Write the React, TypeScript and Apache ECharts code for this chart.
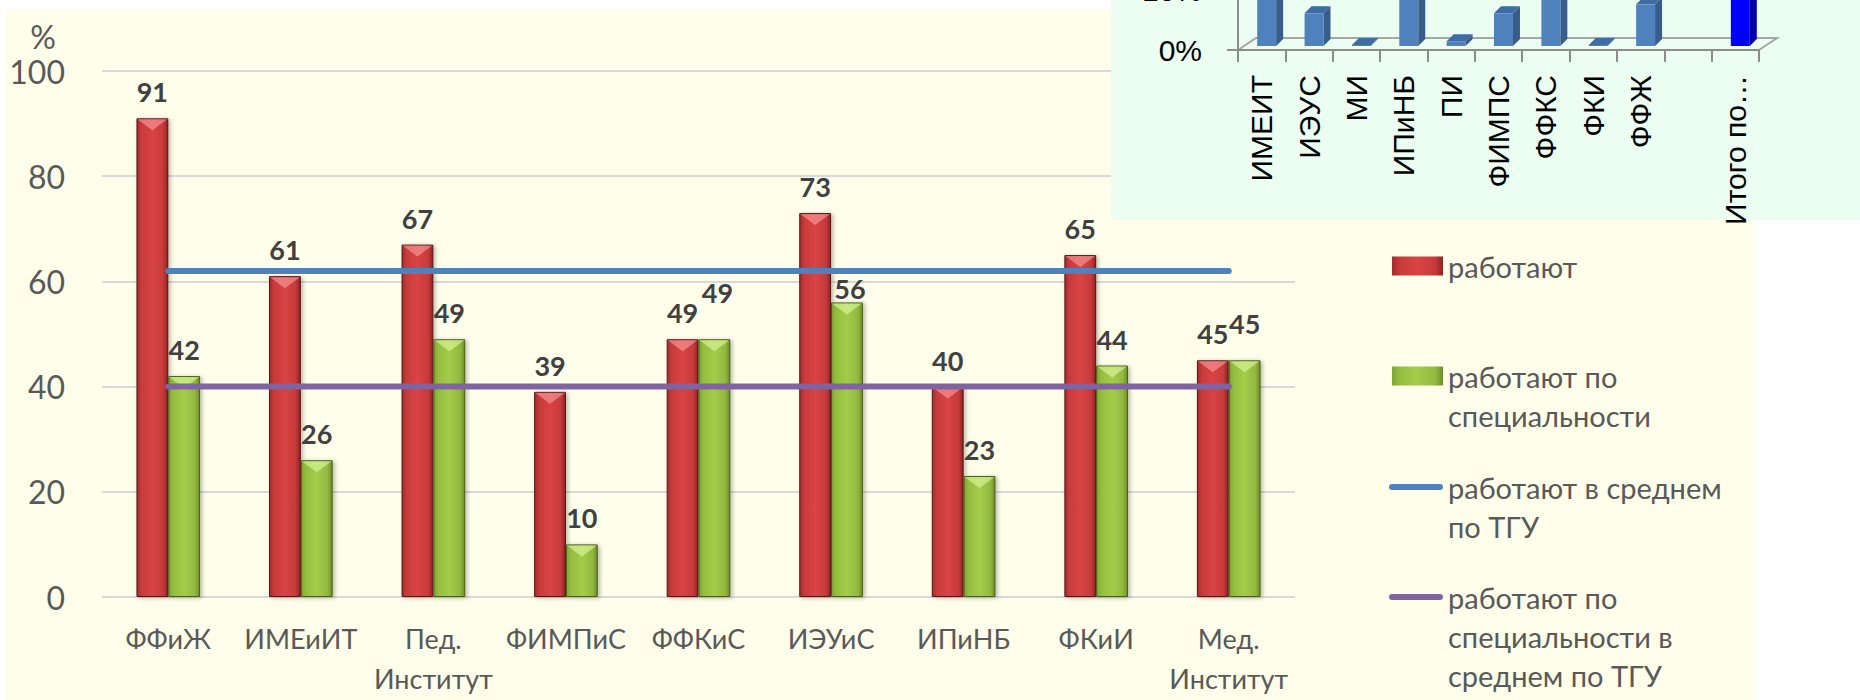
import React, { useEffect, useRef } from 'react';
import * as echarts from 'echarts';

// ---------- main chart data ----------
const categories = ['ФФиЖ', 'ИМЕиИТ', 'Пед.\nИнститут', 'ФИМПиС', 'ФФКиС', 'ИЭУиС', 'ИПиНБ', 'ФКиИ', 'Мед.\nИнститут'];
const working = [91, 61, 67, 39, 49, 73, 40, 65, 45];
const workingInField = [42, 26, 49, 10, 49, 56, 23, 44, 45];
const avgWorking = [62, 62, 62, 62, 62, 62, 62, 62, 62];
const avgWorkingInField = [40, 40, 40, 40, 40, 40, 40, 40, 40];
const yMin = 0;
const yMax = 100;
const yStep = 20;
const yAxisName = '%';

const seriesNames = [
  'работают',
  'работают по специальности',
  'работают в среднем по ТГУ',
  'работают по специальности в среднем по ТГУ',
];
const legendLabels: Record<string, string> = {
  'работают': 'работают',
  'работают по специальности': 'работают по\nспециальности',
  'работают в среднем по ТГУ': 'работают в среднем\nпо ТГУ',
  'работают по специальности в среднем по ТГУ': 'работают по\nспециальности в\nсреднем по ТГУ',
};

// ---------- inset chart data ----------
const insetCategories = ['ИМЕИТ', 'ИЭУС', 'МИ', 'ИПиНБ', 'ПИ', 'ФИМПС', 'ФФКС', 'ФКИ', 'ФФЖ', '', 'Итого по…'];
const insetValues: (number | null)[] = [16, 5.5, 0.15, 15, 0.8, 5.5, 13, 0.15, 7, null, 12];
const insetMin = 0;
const insetMax = 30;
const insetStep = 10;

// label nudges (Excel label collision layout)
const greenLabelOffsets: Record<number, [number, number]> = { 4: [3, -20], 5: [3, 13], 8: [0, -10] };

const FONT = 'Lato';
const GRAY_TEXT = '#595959';
const LEGEND_LH = 39;

const redGrad = () =>
  new echarts.graphic.LinearGradient(0, 0, 1, 0, [
    { offset: 0, color: '#A32C2C' },
    { offset: 0.15, color: '#C83B3B' },
    { offset: 0.5, color: '#D94444' },
    { offset: 0.85, color: '#C63A3A' },
    { offset: 1, color: '#8C2424' },
  ]);
const greenGrad = () =>
  new echarts.graphic.LinearGradient(0, 0, 1, 0, [
    { offset: 0, color: '#7FA532' },
    { offset: 0.15, color: '#95BE40' },
    { offset: 0.5, color: '#A4CC4A' },
    { offset: 0.85, color: '#92B940' },
    { offset: 1, color: '#6E8E2A' },
  ]);

// legend icons: the mark sits level with the first text line; tiny invisible
// corner specks stretch the icon box to the full height of the text block
const speck = (x: number, y: number) => `M${x},${y}h0.01v0.01h-0.01Z`;
const rectIcon = (lines: number) => {
  const h = LEGEND_LH * lines;
  const c = LEGEND_LH / 2;
  return `path://${speck(0, 0)} M0,${c - 9.5}h51v19h-51Z ${speck(50.99, h - 0.01)}`;
};
const lineIcon = (lines: number) => {
  const h = LEGEND_LH * lines;
  const c = LEGEND_LH / 2;
  return `path://${speck(0, 0)} M3,${c - 3}h48a3,3 0 0 1 0,6h-48a3,3 0 0 1 0,-6Z ${speck(53.99, h - 0.01)}`;
};

export default function App() {
  const ref = useRef<HTMLDivElement>(null);

  useEffect(() => {
    document.body.style.margin = '0';
    if (!ref.current) return;
    const chart = echarts.init(ref.current, undefined, { renderer: 'svg' });

    const legendText = {
      fontFamily: FONT,
      fontSize: 29,
      color: GRAY_TEXT,
      lineHeight: LEGEND_LH,
    };
    const legendBase: any = {
      orient: 'vertical',
      padding: 0,
      itemGap: 0,
      selectedMode: false,
      formatter: (n: string) => legendLabels[n] ?? n,
      textStyle: legendText,
      itemStyle: { borderWidth: 0, shadowBlur: 0, shadowOffsetX: 0, shadowOffsetY: 0 },
    };
    const centers = [266, 376, 487, 597];

    const labelStyle = {
      show: true,
      position: 'top',
      distance: 13,
      fontFamily: FONT,
      fontSize: 27,
      fontWeight: 'bold',
      color: '#404040',
    };

    const option: any = {
      animation: false,
      textStyle: { fontFamily: FONT },
      graphic: [
        {
          type: 'rect',
          z: -10,
          shape: { x: 6, y: 9, width: 1749, height: 691 },
          style: { fill: '#FEFEEA' },
          silent: true,
        },
        {
          type: 'rect',
          z: 3,
          shape: { x: 1111, y: 0, width: 749, height: 220 },
          style: { fill: '#ECFDF1' },
          silent: true,
        },
      ],
      legend: [
        {
          ...legendBase,
          left: 1392,
          top: centers[0] - LEGEND_LH / 2,
          data: [seriesNames[0]],
          icon: rectIcon(1),
          itemWidth: 51,
          itemHeight: LEGEND_LH,
        },
        {
          ...legendBase,
          left: 1392,
          top: centers[1] - LEGEND_LH / 2,
          data: [seriesNames[1]],
          icon: rectIcon(2),
          itemWidth: 51,
          itemHeight: LEGEND_LH * 2,
        },
        {
          ...legendBase,
          left: 1389,
          top: centers[2] - LEGEND_LH / 2,
          data: [seriesNames[2]],
          icon: lineIcon(2),
          itemWidth: 54,
          itemHeight: LEGEND_LH * 2,
        },
        {
          ...legendBase,
          left: 1389,
          top: centers[3] - LEGEND_LH / 2,
          data: [seriesNames[3]],
          icon: lineIcon(3),
          itemWidth: 54,
          itemHeight: LEGEND_LH * 3,
        },
      ],
      grid: [
        { left: 102, right: 565, top: 71, bottom: 103, outerBoundsMode: 'none', containLabel: false },
        { left: 1238, width: 521, top: 50 - 178.5, height: 178.5, outerBoundsMode: 'none', containLabel: false },
      ],
      xAxis: [
        {
          type: 'category',
          gridIndex: 0,
          data: categories,
          axisLine: { show: false },
          axisTick: { show: false },
          axisLabel: {
            interval: 0,
            fontFamily: FONT,
            fontSize: 27,
            lineHeight: 40,
            color: GRAY_TEXT,
            margin: 21,
          },
        },
        {
          type: 'category',
          gridIndex: 1,
          data: insetCategories,
          z: 5,
          axisLine: { show: true, lineStyle: { color: '#8C8C8C', width: 2 } },
          axisTick: { show: true, length: 12, lineStyle: { color: '#8C8C8C', width: 2 } },
          axisLabel: {
            interval: 0,
            rotate: 90,
            fontFamily: 'Liberation Sans',
            fontSize: 30,
            color: '#000000',
            margin: 25,
          },
        },
      ],
      yAxis: [
        {
          type: 'value',
          gridIndex: 0,
          min: yMin,
          max: yMax,
          interval: yStep,
          name: yAxisName,
          nameLocation: 'end',
          nameGap: 19,
          nameTextStyle: {
            fontFamily: FONT,
            fontSize: 32,
            color: GRAY_TEXT,
            align: 'right',
            padding: [0, 46, 0, 0],
          },
          axisLine: { show: false },
          axisTick: { show: false },
          axisLabel: { fontFamily: FONT, fontSize: 32, color: GRAY_TEXT, margin: 37 },
          splitLine: { lineStyle: { color: '#D9D9D9', width: 2 } },
        },
        {
          type: 'value',
          gridIndex: 1,
          min: insetMin,
          max: insetMax,
          interval: insetStep,
          z: 5,
          axisLine: { show: true, lineStyle: { color: '#8C8C8C', width: 2 } },
          axisTick: { show: true, length: 11, lineStyle: { color: '#8C8C8C', width: 2 } },
          axisLabel: {
            formatter: '{value}%',
            fontFamily: 'Liberation Sans',
            fontSize: 30,
            color: '#000000',
            margin: 36,
          },
          splitLine: { show: false },
        },
      ],
      series: [
        {
          name: seriesNames[0],
          type: 'bar',
          xAxisIndex: 0,
          yAxisIndex: 0,
          data: working,
          barGap: '0%',
          barCategoryGap: '52%',
          z: 2,
          itemStyle: {
            color: redGrad(),
            borderColor: '#5A1616',
            borderWidth: 1,
            shadowColor: 'rgba(0,0,0,0.28)',
            shadowBlur: 4,
            shadowOffsetX: 2,
            shadowOffsetY: 1,
          },
          label: labelStyle,
        },
        {
          name: seriesNames[1],
          type: 'bar',
          xAxisIndex: 0,
          yAxisIndex: 0,
          data: workingInField.map((v, i) =>
            greenLabelOffsets[i] ? { value: v, label: { offset: greenLabelOffsets[i] } } : v
          ),
          barGap: '0%',
          barCategoryGap: '52%',
          z: 2,
          itemStyle: {
            color: greenGrad(),
            borderColor: '#4A5E18',
            borderWidth: 1,
            shadowColor: 'rgba(0,0,0,0.28)',
            shadowBlur: 4,
            shadowOffsetX: 2,
            shadowOffsetY: 1,
          },
          label: labelStyle,
        },
        {
          // bevel highlight on the tops of the bars
          type: 'custom',
          xAxisIndex: 0,
          yAxisIndex: 0,
          silent: true,
          z: 3,
          data: working.map((v, i) => [i, v, workingInField[i]]),
          renderItem: (params: any, api: any) => {
            const i = api.value(0);
            const band = api.size([1, 0])[0];
            const bw = (band * (1 - 0.52)) / 2;
            const pr = api.coord([i, api.value(1)]);
            const pg = api.coord([i, api.value(2)]);
            const tri = (x: number, y: number, fill: string) => ({
              type: 'polygon',
              shape: { points: [[x + 1, y + 1], [x + bw - 1, y + 1], [x + bw / 2, y + 12]] },
              style: { fill },
            });
            return {
              type: 'group',
              children: [
                tri(pr[0] - bw, pr[1], 'rgba(255,170,170,0.55)'),
                tri(pg[0], pg[1], 'rgba(230,255,170,0.55)'),
              ],
            };
          },
        },
        {
          name: seriesNames[2],
          type: 'line',
          xAxisIndex: 0,
          yAxisIndex: 0,
          data: avgWorking,
          symbol: 'none',
          z: 4,
          lineStyle: { color: '#4F81BD', width: 6, cap: 'round' },
          itemStyle: { color: '#4F81BD' },
        },
        {
          name: seriesNames[3],
          type: 'line',
          xAxisIndex: 0,
          yAxisIndex: 0,
          data: avgWorkingInField,
          symbol: 'none',
          z: 4,
          lineStyle: { color: '#8064A2', width: 6, cap: 'round' },
          itemStyle: { color: '#8064A2' },
        },
        {
          // 3D floor of the inset chart
          type: 'custom',
          xAxisIndex: 1,
          yAxisIndex: 1,
          silent: true,
          z: 5,
          data: [[0, 0]],
          renderItem: (params: any, api: any) => {
            const cs = params.coordSys;
            const yb = cs.y + cs.height;
            const dx = 18;
            const dy = 12;
            return {
              type: 'polyline',
              shape: {
                points: [
                  [cs.x, yb],
                  [cs.x + dx, yb - dy],
                  [cs.x + cs.width + dx, yb - dy],
                  [cs.x + cs.width, yb],
                ],
              },
              style: { stroke: '#A6A6A6', lineWidth: 2, fill: 'none' },
            };
          },
        },
        {
          // 3D bars of the inset chart
          type: 'custom',
          xAxisIndex: 1,
          yAxisIndex: 1,
          silent: true,
          z: 6,
          data: insetValues.map((v, i) => [i, v == null ? NaN : v]),
          renderItem: (params: any, api: any) => {
            const idx = api.value(0);
            const v = api.value(1);
            if (v == null || isNaN(v)) return null;
            const base = api.coord([idx, 0]);
            const top = api.coord([idx, v]);
            const band = api.size([1, 0])[0];
            const w = band * 0.4;
            const cx = base[0] + 5;
            const x0 = cx - w / 2;
            const x1 = cx + w / 2;
            const yb = base[1] - 4;
            const yt = Math.min(top[1] - 4, yb - 1);
            const dx = 7;
            const dy = 7;
            const total = insetCategories[idx].startsWith('Итого');
            const front = total ? '#0000FF' : '#4F81BD';
            const side = total ? '#0000A8' : '#385D8A';
            const topc = total ? '#0000D0' : '#3F6CA3';
            return {
              type: 'group',
              children: [
                {
                  type: 'polygon',
                  shape: { points: [[x1, yb], [x1 + dx, yb - dy], [x1 + dx, yt - dy], [x1, yt]] },
                  style: { fill: side },
                },
                {
                  type: 'polygon',
                  shape: { points: [[x0, yt], [x1, yt], [x1 + dx, yt - dy], [x0 + dx, yt - dy]] },
                  style: { fill: topc },
                },
                { type: 'rect', shape: { x: x0, y: yt, width: w, height: yb - yt }, style: { fill: front } },
              ],
            };
          },
        },
      ],
    };

    chart.setOption(option);
    return () => chart.dispose();
  }, []);

  return (
    <div
      ref={ref}
      style={{ position: 'fixed', left: 0, top: 0, width: 1860, height: 700, background: '#FFFFFF' }}
    />
  );
}
